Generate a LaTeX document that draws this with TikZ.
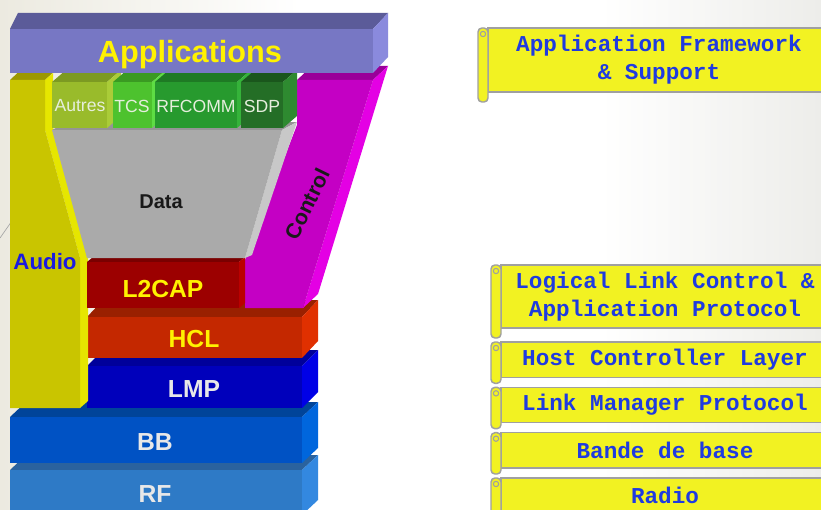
\documentclass[tikz,border=0pt]{standalone}
\usepackage{fontspec}
\setmainfont{Liberation Sans}
\setmonofont{Liberation Mono}
\usetikzlibrary{positioning,calc}
\definecolor{bgleft}{HTML}{ECEAE0}
\definecolor{bgright}{HTML}{EDEDEA}
\definecolor{appfront}{HTML}{7777C4}
\definecolor{apptop}{HTML}{5B5B99}
\definecolor{appside}{HTML}{8A8ADD}
\definecolor{audfront}{HTML}{C9C500}
\definecolor{audtop}{HTML}{9C9800}
\definecolor{audside}{HTML}{E6E600}
\definecolor{magfront}{HTML}{C400C4}
\definecolor{magtop}{HTML}{990099}
\definecolor{magside}{HTML}{E400E4}
\definecolor{datafront}{HTML}{AAAAAA}
\definecolor{datatop}{HTML}{959595}
\definecolor{dataside}{HTML}{C8C8C8}
\definecolor{ltfront}{HTML}{9C0000}
\definecolor{lttop}{HTML}{7A0000}
\definecolor{ltside}{HTML}{BB0000}
\definecolor{hclfront}{HTML}{C42800}
\definecolor{hcltop}{HTML}{9A2000}
\definecolor{hclside}{HTML}{E03000}
\definecolor{lmpfront}{HTML}{0000BB}
\definecolor{lmptop}{HTML}{00009A}
\definecolor{lmpside}{HTML}{0000E6}
\definecolor{bbfront}{HTML}{0052C4}
\definecolor{bbtop}{HTML}{004499}
\definecolor{bbside}{HTML}{0066DD}
\definecolor{rffront}{HTML}{2E7AC6}
\definecolor{rftop}{HTML}{2A629E}
\definecolor{rfside}{HTML}{3388E0}
\definecolor{autfront}{HTML}{99BB2B}
\definecolor{auttop}{HTML}{7C9A22}
\definecolor{autside}{HTML}{AACC38}
\definecolor{tcsfront}{HTML}{4DC22E}
\definecolor{tcstop}{HTML}{3A9A22}
\definecolor{tcsside}{HTML}{5EDD44}
\definecolor{rfcfront}{HTML}{279A2E}
\definecolor{rfctop}{HTML}{1E7A24}
\definecolor{rfcside}{HTML}{35B33A}
\definecolor{sdpfront}{HTML}{246E26}
\definecolor{sdptop}{HTML}{1A561C}
\definecolor{sdpside}{HTML}{2E8A30}
\definecolor{lblyellow}{HTML}{FFF200}
\definecolor{lblwhite}{HTML}{E8E8E8}
\definecolor{lblgreen}{HTML}{E6EEDD}
\definecolor{audioblue}{HTML}{1A1AE0}
\definecolor{scrollyellow}{HTML}{F2F222}
\definecolor{scrollgrey}{HTML}{A0A0A0}
\definecolor{scrolltext}{HTML}{1F3BE0}
% front x1,y1 / x2,y2, depth dx,dy, colours front/top/side
\newcommand{\slab}[9]{%
  \fill[#8] (#1,#2) -- (#3,#2) -- ++(#5,#6) -- ++({#1-#3},0) -- cycle;
  \fill[#9] (#3,#2) -- ++(#5,#6) -- ++(0,{#4-#2}) -- (#3,#4) -- cycle;
  \fill[#7] (#1,#2) rectangle (#3,#4);}

\begin{document}
\begin{tikzpicture}[
    x=0.75pt, y=-0.75pt,
    layerlbl/.style={font=\bfseries\fontsize{18.5}{22}\selectfont},
    protolbl/.style={font=\fontsize{13.2}{16}\selectfont, text=lblgreen},
    scroll/.style={rectangle, draw=scrollgrey, fill=scrollyellow, line width=1.1pt,
        minimum height=26.5pt, minimum width=246pt, inner sep=0pt, outer sep=0pt,
        align=center, text=scrolltext,
        font=\ttfamily\bfseries\fontsize{17}{21}\selectfont},
    roll/.style={draw=scrollgrey, fill=scrollyellow, line width=1.1pt, rounded corners=3pt}
]
\useasboundingbox (0,0) rectangle (821,510);
\fill[white] (0,0) rectangle (821,510);
\shade[left color=bgleft, right color=white] (0,0) rectangle (300,510);
\shade[left color=white, right color=bgright] (600,0) rectangle (821,510);
\draw[black!35, line width=0.5pt] (0,238) -- (14,218);

% stack, bottom to top
\slab{10}{470}{302}{515}{16}{-15}{rffront}{rftop}{rfside}
\slab{10}{417}{302}{463}{16}{-15}{bbfront}{bbtop}{bbside}
\slab{87}{366}{302}{408}{16}{-16}{lmpfront}{lmptop}{lmpside}
\slab{87}{317}{302}{358}{16}{-17}{hclfront}{hcltop}{hclside}

% audio bar
\fill[audtop] (10,80) -- (45,80) -- (60,66) -- (25,66) -- cycle;
\fill[audside] (45,80) -- (53,73) -- (53,127) -- (88,255) -- (88,401) -- (80,408)
    -- (80,258) -- (45,130) -- cycle;
\fill[audfront] (10,80) -- (45,80) -- (45,130) -- (80,258) -- (80,408) -- (10,408) -- cycle;

% control bar
\fill[magtop] (297,80) -- (373,80) -- (388,66) -- (312,66) -- cycle;
\fill[magside] (373,80) -- (388,66) -- (318,294) -- (303,308) -- cycle;
\fill[magfront] (297,80) -- (373,80) -- (303,308) -- (245,308) -- (245,260)
    -- (297,125) -- cycle;

\slab{87}{262}{239}{308}{6}{-5}{ltfront}{lttop}{ltside}

% data funnel
\fill[datatop] (52,130) -- (282,130) -- (297,122) -- (67,122) -- cycle;
\fill[dataside] (282,130) -- (297,122) -- (252,255) -- (245,258) -- cycle;
\fill[datafront] (52,130) -- (282,130) -- (245,258) -- (87,258) -- cycle;

\slab{52}{82}{107}{128}{14}{-12}{autfront}{auttop}{autside}
\slab{113}{82}{152}{128}{14}{-12}{tcsfront}{tcstop}{tcsside}
\slab{155}{82}{237}{128}{14}{-12}{rfcfront}{rfctop}{rfcside}
\slab{241}{82}{283}{128}{14}{-12}{sdpfront}{sdptop}{sdpside}

% applications bar
\fill[apptop] (10,29) -- (373,29) -- (388,13) -- (18,13) -- cycle;
\fill[appside] (373,29) -- (388,13) -- (388,57) -- (373,73) -- cycle;
\fill[appfront] (10,29) rectangle (373,73);

% labels
\node[font=\bfseries\fontsize{23}{27}\selectfont, text=lblyellow] (apps) at (190,55) {Applications};
\node[protolbl] (autres) at (80,106) {Autres};
\node[protolbl] (tcs) at (132,106) {TCS};
\node[protolbl] (rfcomm) at (196,106) {RFCOMM};
\node[protolbl] (sdp) at (262,106) {SDP};
\node[font=\bfseries\fontsize{15}{18}\selectfont, text=black!90] (data) at (161,202) {Data};
\node[font=\bfseries\fontsize{16}{19}\selectfont, text=black!90, rotate=64] (control) at (307,204) {Control};
\node[font=\bfseries\fontsize{16.7}{20}\selectfont, text=audioblue] (audio) at (45,262) {Audio};
\node[layerlbl, text=lblyellow] (ltwocap) at (163,289) {L2CAP};
\node[layerlbl, text=lblyellow] (hcl) at (194,339) {HCL};
\node[layerlbl, text=lblwhite] (lmp) at (194,389) {LMP};
\node[layerlbl, text=lblwhite] (bb) at (155,442) {BB};
\node[layerlbl, text=lblwhite] (rf) at (155,494) {RF};

% scrolls
\node[scroll, anchor=north west, minimum width=256.5pt, minimum height=48pt] (descapp) at (488,28)
    {Application Framework\\\& Support};
\node[scroll, anchor=north west, minimum height=47.25pt] (descltwocap) at (501,265)
    {Logical Link Control \&\\Application Protocol};
\node[scroll, below=10.5pt of descltwocap] (deschcl) {Host Controller Layer};
\node[scroll, below=7.5pt of deschcl] (desclmp) {Link Manager Protocol};
\node[scroll, below=7.5pt of desclmp] (descbb) {Bande de base};
\node[scroll, below=7.5pt of descbb] (descrf) {Radio};

\foreach \s/\d in {descapp/10, descltwocap/10, deschcl/6, desclmp/6, descbb/6, descrf/6}{
  \draw[roll] ($(\s.north west)+(-10,0)$) rectangle ($(\s.south west)+(0,\d)$);
  \draw[scrollgrey, line width=0.8pt] ($(\s.north west)+(-5,6)$) circle[radius=2pt];
}
\end{tikzpicture}
\end{document}
